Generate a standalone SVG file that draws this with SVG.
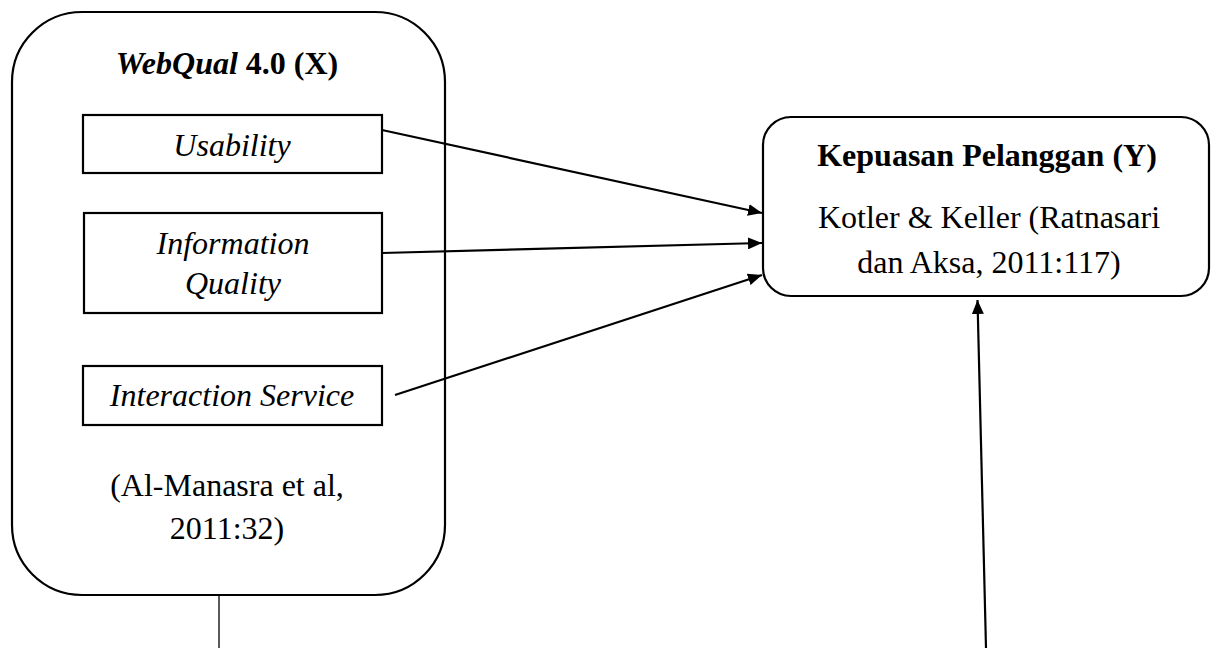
<svg xmlns="http://www.w3.org/2000/svg" width="1211" height="648" viewBox="0 0 1211 648">
  <style>
    .frame { fill: #fff; stroke: #000; stroke-width: 2.2; }
    .box { fill: #fff; stroke: #000; stroke-width: 2.2; }
    .t { font-family: "Liberation Serif", "Times New Roman", serif; font-size: 32px; fill: #000; text-anchor: middle; }
    .b { font-weight: bold; }
    .i { font-style: italic; }
    .edge { stroke: #000; stroke-width: 2.2; fill: none; }
    .thin { stroke: #000; stroke-width: 1.3; fill: none; }
  </style>
  <defs>
    <marker id="arrow" markerWidth="14" markerHeight="12" refX="14" refY="6" orient="auto" markerUnits="userSpaceOnUse">
      <path d="M0,0 L14,6 L0,12 Z" fill="#000"/>
    </marker>
  </defs>
  <rect width="1211" height="648" fill="#fff"/>

  <!-- Independent variable X with its dimensions -->
  <g id="webqual">
    <rect class="frame" x="12" y="12" width="433" height="583" rx="70" ry="70"/>
    <text class="t b" x="227" y="74"><tspan class="i">WebQual</tspan> 4.0 (X)</text>
    <text class="t" x="227" y="496">(Al-Manasra et al,</text>
    <text class="t" x="227" y="539">2011:32)</text>
  </g>
  <g id="usability">
    <rect class="box" x="83" y="115" width="299" height="58"/>
    <text class="t i" x="232" y="156">Usability</text>
  </g>
  <g id="information-quality">
    <rect class="box" x="84" y="213" width="298" height="100"/>
    <text class="t i" x="233" y="254">Information</text>
    <text class="t i" x="233" y="294">Quality</text>
  </g>
  <g id="interaction-service">
    <rect class="box" x="83" y="366" width="299" height="59"/>
    <text class="t i" x="232" y="406">Interaction Service</text>
  </g>

  <!-- Dependent variable Y -->
  <g id="kepuasan">
    <rect class="box" x="763" y="117" width="446" height="179" rx="28" ry="28"/>
    <text class="t b" x="987" y="166">Kepuasan Pelanggan (Y)</text>
    <text class="t" x="989" y="228">Kotler &amp; Keller (Ratnasari</text>
    <text class="t" x="989" y="273">dan Aksa, 2011:117)</text>
  </g>

  <!-- Connectors -->
  <g id="connectors">
    <line class="edge" x1="382" y1="130" x2="762" y2="213" marker-end="url(#arrow)"/>
    <line class="edge" x1="382" y1="253" x2="762" y2="243" marker-end="url(#arrow)"/>
    <line class="edge" x1="395" y1="395" x2="762" y2="275" marker-end="url(#arrow)"/>
    <line class="edge" x1="986" y1="648" x2="977.5" y2="300" marker-end="url(#arrow)"/>
    <line class="thin" x1="219" y1="595" x2="219" y2="648"/>
  </g>
</svg>
